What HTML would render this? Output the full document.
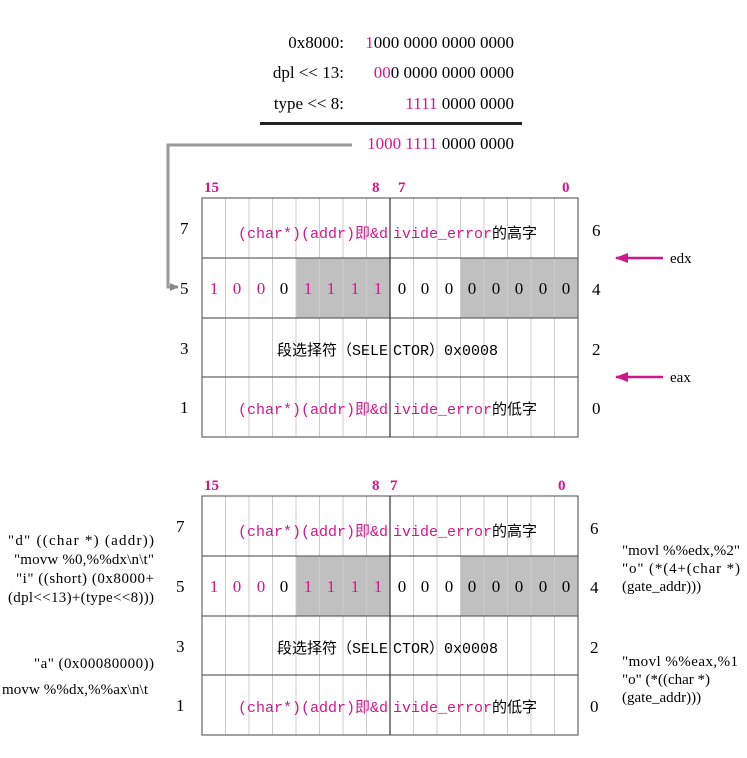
<!DOCTYPE html>
<html><head><meta charset="utf-8"><style>
html,body{margin:0;padding:0;background:#fff;}
svg{display:block;}
text{font-family:"Liberation Serif","Noto Serif CJK SC",serif;}
.m{font-family:"Liberation Mono","Noto Sans CJK SC",monospace;font-size:15px;}
.p{fill:#d0178a;}
</style></head><body>
<svg width="747" height="758" viewBox="0 0 747 758" xmlns="http://www.w3.org/2000/svg">
<defs>
<marker id="ga" markerUnits="userSpaceOnUse" markerWidth="10" markerHeight="10" refX="8" refY="5" orient="auto"><path d="M0,1 L9,5 L0,9z" fill="#888"/></marker>
<marker id="pa" markerUnits="userSpaceOnUse" markerWidth="14" markerHeight="12" refX="12" refY="6" orient="auto"><path d="M0,1 L13,6 L0,11z" fill="#d0178a"/></marker>
</defs>
<!-- top arithmetic -->
<g font-size="17">
<text x="344" y="48" text-anchor="end">0x8000:</text>
<text x="514" y="48" text-anchor="end"><tspan class="p">1</tspan>000 0000 0000 0000</text>
<text x="344" y="78" text-anchor="end">dpl &lt;&lt; 13:</text>
<text x="514" y="78" text-anchor="end"><tspan class="p">00</tspan>0 0000 0000 0000</text>
<text x="344" y="109" text-anchor="end">type &lt;&lt; 8:</text>
<text x="514" y="109" text-anchor="end"><tspan class="p">1111</tspan> 0000 0000</text>
<text x="514" y="149" text-anchor="end"><tspan class="p">1000 1111</tspan> 0000 0000</text>
</g>
<line x1="260" y1="123.5" x2="522" y2="123.5" stroke="#222" stroke-width="3"/>
<polyline points="352,145 168,145 168,287 178,287" fill="none" stroke="#999" stroke-width="3" marker-end="url(#ga)"/>

<!-- pink arrows -->
<line x1="663" y1="258" x2="616" y2="258" stroke="#d0178a" stroke-width="2.5" marker-end="url(#pa)"/>
<text x="670" y="263" font-size="15">edx</text>
<line x1="663" y1="377" x2="616" y2="377" stroke="#d0178a" stroke-width="2.5" marker-end="url(#pa)"/>
<text x="670" y="382" font-size="15">eax</text>

<!-- TABLE 1 -->
<g>
<text x="204" y="192" font-size="15" font-weight="bold" class="p">15</text>
<text x="372" y="192" font-size="15" font-weight="bold" class="p">8</text>
<text x="398" y="192" font-size="15" font-weight="bold" class="p">7</text>
<text x="562" y="192" font-size="15" font-weight="bold" class="p">0</text>
<rect x="296" y="258" width="94" height="60" fill="#c0c0c0"/>
<rect x="460.5" y="258" width="117.5" height="60" fill="#c0c0c0"/>
<g stroke="#ccc" stroke-width="1">
<line x1="225.5" y1="198" x2="225.5" y2="437"/><line x1="249" y1="198" x2="249" y2="437"/><line x1="272.5" y1="198" x2="272.5" y2="437"/><line x1="296" y1="198" x2="296" y2="437"/><line x1="319.5" y1="198" x2="319.5" y2="437"/><line x1="343" y1="198" x2="343" y2="437"/><line x1="366.5" y1="198" x2="366.5" y2="437"/><line x1="413.5" y1="198" x2="413.5" y2="437"/><line x1="437" y1="198" x2="437" y2="437"/><line x1="460.5" y1="198" x2="460.5" y2="437"/><line x1="484" y1="198" x2="484" y2="437"/><line x1="507.5" y1="198" x2="507.5" y2="437"/><line x1="531" y1="198" x2="531" y2="437"/><line x1="554.5" y1="198" x2="554.5" y2="437"/>
</g>
<g stroke="#666" stroke-width="1.2" fill="none">
<rect x="202" y="198" width="376" height="239"/>
<line x1="202" y1="258" x2="578" y2="258"/><line x1="202" y1="318" x2="578" y2="318"/><line x1="202" y1="377" x2="578" y2="377"/>
<line x1="390" y1="198" x2="390" y2="437" stroke="#333"/>
</g>
<g font-size="17">
<text x="180" y="234">7</text><text x="180" y="294">5</text><text x="180" y="354">3</text><text x="180" y="413">1</text>
<text x="592" y="236">6</text><text x="592" y="295">4</text><text x="592" y="355">2</text><text x="592" y="414">0</text>
</g>
<text x="388" y="238" text-anchor="end" class="m p">(char*)(addr)即&amp;d</text>
<text x="393" y="238" class="m"><tspan class="p">ivide_error</tspan>的高字</text>
<text x="388" y="355" text-anchor="end" class="m">段选择符（SELE</text>
<text x="393" y="355" class="m">CTOR）0x0008</text>
<text x="388" y="414" text-anchor="end" class="m p">(char*)(addr)即&amp;d</text>
<text x="393" y="414" class="m"><tspan class="p">ivide_error</tspan>的低字</text>
<g font-size="17" text-anchor="middle">
<text x="214" y="294" class="p">1</text><text x="237" y="294" class="p">0</text><text x="261" y="294" class="p">0</text><text x="284" y="294">0</text>
<text x="308" y="294" class="p">1</text><text x="331" y="294" class="p">1</text><text x="355" y="294" class="p">1</text><text x="378" y="294" class="p">1</text>
<text x="402" y="294">0</text><text x="425" y="294">0</text><text x="449" y="294">0</text><text x="472" y="294">0</text>
<text x="496" y="294">0</text><text x="519" y="294">0</text><text x="543" y="294">0</text><text x="566" y="294">0</text>
</g>
</g>

<!-- TABLE 2 -->
<g transform="translate(0,298)">
<text x="204" y="192" font-size="15" font-weight="bold" class="p">15</text>
<text x="372" y="192" font-size="15" font-weight="bold" class="p">8</text>
<text x="390" y="192" font-size="15" font-weight="bold" class="p">7</text>
<text x="558" y="192" font-size="15" font-weight="bold" class="p">0</text>
<rect x="296" y="258" width="94" height="60" fill="#c0c0c0"/>
<rect x="460.5" y="258" width="117.5" height="60" fill="#c0c0c0"/>
<g stroke="#ccc" stroke-width="1">
<line x1="225.5" y1="198" x2="225.5" y2="437"/><line x1="249" y1="198" x2="249" y2="437"/><line x1="272.5" y1="198" x2="272.5" y2="437"/><line x1="296" y1="198" x2="296" y2="437"/><line x1="319.5" y1="198" x2="319.5" y2="437"/><line x1="343" y1="198" x2="343" y2="437"/><line x1="366.5" y1="198" x2="366.5" y2="437"/><line x1="413.5" y1="198" x2="413.5" y2="437"/><line x1="437" y1="198" x2="437" y2="437"/><line x1="460.5" y1="198" x2="460.5" y2="437"/><line x1="484" y1="198" x2="484" y2="437"/><line x1="507.5" y1="198" x2="507.5" y2="437"/><line x1="531" y1="198" x2="531" y2="437"/><line x1="554.5" y1="198" x2="554.5" y2="437"/>
</g>
<g stroke="#666" stroke-width="1.2" fill="none">
<rect x="202" y="198" width="376" height="239"/>
<line x1="202" y1="258" x2="578" y2="258"/><line x1="202" y1="318" x2="578" y2="318"/><line x1="202" y1="377" x2="578" y2="377"/>
<line x1="390" y1="198" x2="390" y2="437" stroke="#333"/>
</g>
<g font-size="17">
<text x="176" y="234">7</text><text x="176" y="294">5</text><text x="176" y="354">3</text><text x="176" y="413">1</text>
<text x="590" y="236">6</text><text x="590" y="295">4</text><text x="590" y="355">2</text><text x="590" y="414">0</text>
</g>
<text x="388" y="238" text-anchor="end" class="m p">(char*)(addr)即&amp;d</text>
<text x="393" y="238" class="m"><tspan class="p">ivide_error</tspan>的高字</text>
<text x="388" y="355" text-anchor="end" class="m">段选择符（SELE</text>
<text x="393" y="355" class="m">CTOR）0x0008</text>
<text x="388" y="414" text-anchor="end" class="m p">(char*)(addr)即&amp;d</text>
<text x="393" y="414" class="m"><tspan class="p">ivide_error</tspan>的低字</text>
<g font-size="17" text-anchor="middle">
<text x="214" y="294" class="p">1</text><text x="237" y="294" class="p">0</text><text x="261" y="294" class="p">0</text><text x="284" y="294">0</text>
<text x="308" y="294" class="p">1</text><text x="331" y="294" class="p">1</text><text x="355" y="294" class="p">1</text><text x="378" y="294" class="p">1</text>
<text x="402" y="294">0</text><text x="425" y="294">0</text><text x="449" y="294">0</text><text x="472" y="294">0</text>
<text x="496" y="294">0</text><text x="519" y="294">0</text><text x="543" y="294">0</text><text x="566" y="294">0</text>
</g>
</g>

<!-- side annotations -->
<g font-size="15">
<text x="154" y="545" text-anchor="end" textLength="146">"d" ((char *) (addr))</text>
<text x="154" y="564" text-anchor="end" textLength="140">"movw %0,%%dx\n\t"</text>
<text x="154" y="583" text-anchor="end" textLength="138">"i" ((short) (0x8000+</text>
<text x="154" y="602" text-anchor="end" textLength="146">(dpl&lt;&lt;13)+(type&lt;&lt;8)))</text>
<text x="154" y="668" text-anchor="end" textLength="120">"a" (0x00080000))</text>
<text x="2" y="694" textLength="146">movw %%dx,%%ax\n\t</text>
<text x="622" y="555" textLength="118">"movl %%edx,%2"</text>
<text x="622" y="573" textLength="118">"o" (*(4+(char *)</text>
<text x="622" y="591">(gate_addr)))</text>
<text x="622" y="666" textLength="116">"movl %%eax,%1</text>
<text x="622" y="684">"o" (*((char *)</text>
<text x="622" y="702">(gate_addr)))</text>
</g>
</svg>
</body></html>
